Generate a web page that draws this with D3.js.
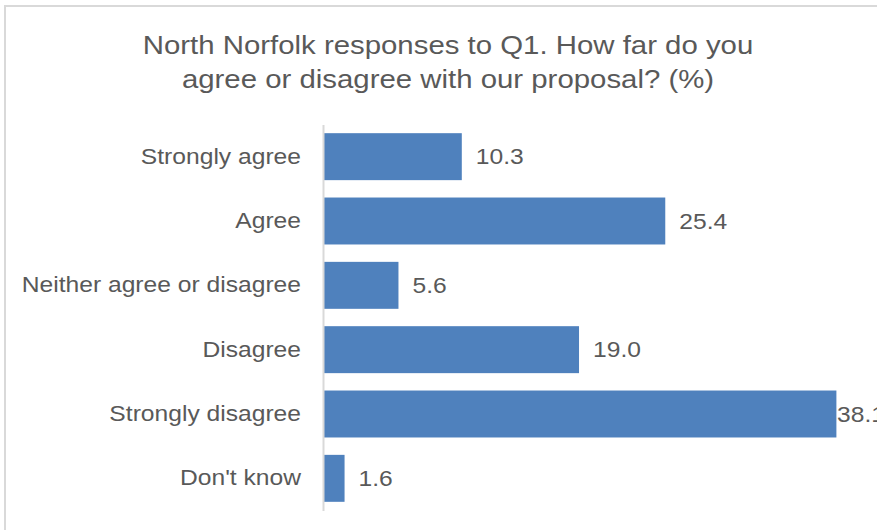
<!DOCTYPE html>
<html>
<head>
<script src="https://cdn.jsdelivr.net/npm/d3@7"></script>
<style>
	body { margin: 0; background: #fff; }
	svg { display: block; font-family: "Liberation Sans", Arial, sans-serif; }
</style>
</head>
<body>
<svg id="chart" width="877" height="530"></svg>
<script>
var categories = ["Strongly agree", "Agree", "Neither agree or disagree", "Disagree", "Strongly disagree", "Don't know"];
var values = [10.3, 25.4, 5.6, 19.0, 38.1, 1.6];
var titleLines = ["North Norfolk responses to Q1. How far do you", "agree or disagree with our proposal? (%)"];

var svg = d3.select("#chart");
var textColor = "#595959";
var stretch = 1.12; // source text is rendered a bit wide

// chart frame (runs off the right and bottom edges)
svg.append("rect")
	.attr("x", 5).attr("y", 6)
	.attr("width", 900).attr("height", 540)
	.attr("fill", "none")
	.attr("stroke", "#d9d9d9")
	.attr("stroke-width", 2);

// title
svg.append("g")
	.attr("transform", "translate(448,54) scale(1.13,1)")
	.append("text")
	.attr("text-anchor", "middle")
	.attr("fill", textColor)
	.style("font-size", "26px")
	.selectAll("tspan")
	.data(titleLines)
	.enter().append("tspan")
	.attr("x", 0)
	.attr("dy", function(d, i) { return i == 0 ? 0 : 34; })
	.text(function(d) { return d; });

var x = d3.scaleLinear().domain([0, 40]).range([323, 862]);
var y = d3.scaleBand().domain(categories).range([124.5, 510.5]).paddingInner(0.27).paddingOuter(0.135);

// bars
svg.selectAll(".bar")
	.data(values)
	.enter().append("rect")
	.attr("class", "bar")
	.attr("x", x(0))
	.attr("y", function(d, i) { return y(categories[i]); })
	.attr("width", function(d) { return x(d) - x(0); })
	.attr("height", y.bandwidth())
	.attr("fill", "#4f81bd");

// category axis
var yAxis = svg.append("g")
	.attr("transform", "translate(" + x(0) + ",0)")
	.call(d3.axisLeft(y).tickSize(0).tickPadding(22));
yAxis.select(".domain").attr("stroke", "#d9d9d9").attr("stroke-width", 2);
yAxis.selectAll(".tick text")
	.attr("x", -22 / stretch)
	.attr("transform", "scale(" + stretch + ",1)")
	.attr("fill", textColor)
	.style("font-size", "22px")
	.style("font-family", "'Liberation Sans', Arial, sans-serif");

// value labels
svg.selectAll(".val")
	.data(values)
	.enter().append("g")
	.attr("class", "val")
	.attr("transform", function(d, i) {
		var lx = Math.min(x(d) + 14, 837);
		var ly = y(categories[i]) + y.bandwidth() / 2;
		return "translate(" + lx + "," + ly + ") scale(" + stretch + ",1)";
	})
	.append("text")
	.attr("dy", "0.35em")
	.attr("fill", textColor)
	.style("font-size", "22px")
	.text(function(d) { return d.toFixed(1); });
</script>
</body>
</html>
